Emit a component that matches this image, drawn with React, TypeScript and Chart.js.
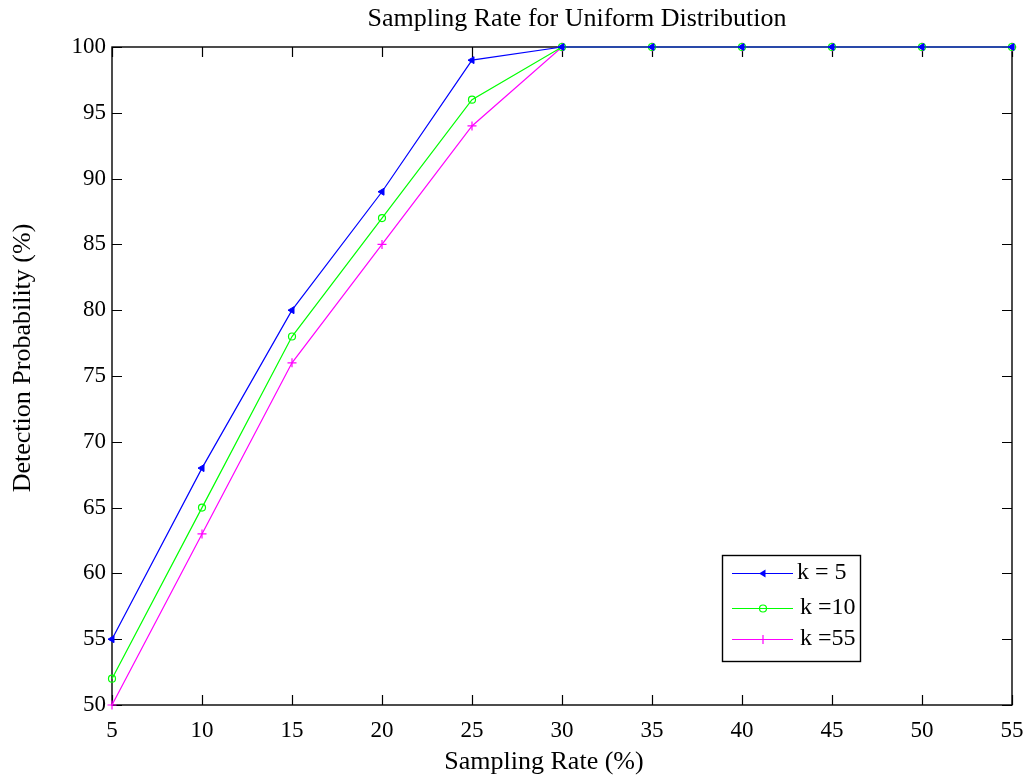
import React, { useEffect, useRef } from "react";
import { Chart, registerables } from "chart.js";

Chart.register(...registerables);

const samplingRates = [5, 10, 15, 20, 25, 30, 35, 40, 45, 50, 55];
const k5 = [55, 68, 80, 89, 99, 100, 100, 100, 100, 100, 100];
const k10 = [52, 65, 78, 87, 96, 100, 100, 100, 100, 100, 100];
const k55 = [50, 63, 76, 85, 94, 100, 100, 100, 100, 100, 100];
const seriesLabels = ["k = 5", "k =10", "k =55"];
const seriesColors = ["#0000ff", "#00ff00", "#ff00ff"];
const xTicks = [5, 10, 15, 20, 25, 30, 35, 40, 45, 50, 55];
const yTicks = [50, 55, 60, 65, 70, 75, 80, 85, 90, 95, 100];
const chartTitle = "Sampling Rate for Uniform Distribution";
const xTitle = "Sampling Rate (%)";
const yTitle = "Detection Probability (%)";

const FONT = "'Liberation Serif', 'Times New Roman', serif";

function drawMarker(ctx: CanvasRenderingContext2D, kind: number, x: number, y: number, color: string) {
  ctx.save();
  ctx.strokeStyle = color;
  ctx.fillStyle = color;
  ctx.lineWidth = 1.2;
  ctx.beginPath();
  if (kind === 0) {
    ctx.moveTo(x - 4, y);
    ctx.lineTo(x + 2.5, y - 4);
    ctx.lineTo(x + 2.5, y + 4);
    ctx.closePath();
    ctx.fill();
  } else if (kind === 1) {
    ctx.arc(x, y, 3.5, 0, Math.PI * 2);
    ctx.stroke();
  } else {
    ctx.moveTo(x - 4.5, y);
    ctx.lineTo(x + 4.5, y);
    ctx.moveTo(x, y - 4.5);
    ctx.lineTo(x, y + 4.5);
    ctx.stroke();
  }
  ctx.restore();
}

const framePlugin = {
  id: "frame",
  beforeDatasetsDraw(chart: any) {
    const { ctx, chartArea } = chart;
    const { left, right, top, bottom } = chartArea;
    const xs = chart.scales.x;
    const ys = chart.scales.y;
    ctx.save();
    ctx.strokeStyle = "#000";
    ctx.lineWidth = 1.4;
    ctx.strokeRect(left, top, right - left, bottom - top);
    ctx.beginPath();
    const tl = 10;
    for (const v of xTicks) {
      const px = Math.round(xs.getPixelForValue(v)) + 0.5;
      ctx.moveTo(px, bottom);
      ctx.lineTo(px, bottom - tl);
      ctx.moveTo(px, top);
      ctx.lineTo(px, top + tl);
    }
    for (const v of yTicks) {
      const py = Math.round(ys.getPixelForValue(v)) + 0.5;
      ctx.moveTo(left, py);
      ctx.lineTo(left + tl, py);
      ctx.moveTo(right, py);
      ctx.lineTo(right - tl, py);
    }
    ctx.lineWidth = 1.2;
    ctx.stroke();
    ctx.restore();
  },
  afterDraw(chart: any) {
    const { ctx } = chart;
    ctx.save();
    // titles
    ctx.fillStyle = "#000";
    ctx.font = `26px ${FONT}`;
    ctx.textAlign = "center";
    ctx.textBaseline = "middle";
    ctx.fillText(chartTitle, 577, 19);
    ctx.fillText(xTitle, 544, 762);
    ctx.save();
    ctx.translate(23, 358);
    ctx.rotate(-Math.PI / 2);
    ctx.fillText(yTitle, 0, 0);
    ctx.restore();

    // legend
    const bx = 722, by = 555, bw = 138, bh = 106;
    ctx.fillStyle = "#fff";
    ctx.fillRect(bx, by, bw, bh);
    ctx.strokeStyle = "#000";
    ctx.lineWidth = 1.4;
    ctx.strokeRect(bx + 0.5, by + 0.5, bw, bh);
    const rows = [573, 608, 639];
    const textX = [797, 800, 800];
    seriesLabels.forEach((lab, i) => {
      const y = rows[i];
      ctx.strokeStyle = seriesColors[i];
      ctx.lineWidth = 1.2;
      ctx.beginPath();
      ctx.moveTo(732, y + 0.5);
      ctx.lineTo(793, y + 0.5);
      ctx.stroke();
      drawMarker(ctx, i, 763, y + 0.5, seriesColors[i]);
      ctx.fillStyle = "#000";
      ctx.font = `24px ${FONT}`;
      ctx.textAlign = "left";
      ctx.textBaseline = "middle";
      ctx.fillText(lab, textX[i], y);
    });
    ctx.restore();
  },
};

export default function App() {
  const ref = useRef<HTMLCanvasElement | null>(null);
  useEffect(() => {
    if (!ref.current) return;
    const mk = (data: number[]) => samplingRates.map((x, i) => ({ x, y: data[i] }));
    const chart = new Chart(ref.current, {
      type: "line",
      data: {
        datasets: [
          {
            label: seriesLabels[0],
            data: mk(k5),
            borderColor: seriesColors[0],
            backgroundColor: seriesColors[0],
            borderWidth: 1.2,
            pointStyle: "triangle",
            pointRotation: -90,
            pointRadius: 4,
            pointBorderWidth: 1,
            pointBackgroundColor: seriesColors[0],
            tension: 0,
            clip: false as any,
          },
          {
            label: seriesLabels[1],
            data: mk(k10),
            borderColor: seriesColors[1],
            backgroundColor: seriesColors[1],
            borderWidth: 1.2,
            pointStyle: "circle",
            pointRadius: 3.5,
            pointBorderWidth: 1.2,
            pointBackgroundColor: "rgba(0,0,0,0)",
            tension: 0,
            clip: false as any,
          },
          {
            label: seriesLabels[2],
            data: mk(k55),
            borderColor: seriesColors[2],
            backgroundColor: seriesColors[2],
            borderWidth: 1.2,
            pointStyle: "cross",
            pointRadius: 4.5,
            pointBorderWidth: 1.2,
            tension: 0,
            clip: false as any,
          },
        ],
      },
      options: {
        responsive: false,
        animation: false,
        layout: { padding: { left: 0, right: 12, top: 47, bottom: 0 } },
        plugins: {
          legend: { display: false },
          tooltip: { enabled: false },
          title: { display: false },
        },
        scales: {
          x: {
            type: "linear",
            min: 5,
            max: 55,
            afterFit(scale: any) {
              scale.height = 75;
              scale.paddingLeft = 0;
              scale.paddingRight = 0;
            },
            afterBuildTicks(scale: any) {
              scale.ticks = xTicks.map((v) => ({ value: v }));
            },
            ticks: {
              color: "#000",
              font: { family: FONT, size: 23 },
              padding: 12,
              maxRotation: 0,
              autoSkip: false,
            },
            grid: { display: false, drawTicks: false },
            border: { display: false },
            title: { display: false },
          },
          y: {
            type: "linear",
            min: 50,
            max: 100,
            afterFit(scale: any) {
              scale.width = 112;
              scale.paddingTop = 0;
              scale.paddingBottom = 0;
            },
            afterBuildTicks(scale: any) {
              scale.ticks = yTicks.map((v) => ({ value: v }));
            },
            ticks: {
              color: "#000",
              font: { family: FONT, size: 23 },
              padding: 6,
              autoSkip: false,
            },
            grid: { display: false, drawTicks: false },
            border: { display: false },
            title: { display: false },
          },
        },
      },
      plugins: [framePlugin],
    });
    return () => chart.destroy();
  }, []);
  return (
    <div style={{ position: "absolute", left: 0, top: 0, width: 1024, height: 780, background: "#fff" }}>
      <canvas ref={ref} width={1024} height={780} style={{ display: "block" }} />
    </div>
  );
}
